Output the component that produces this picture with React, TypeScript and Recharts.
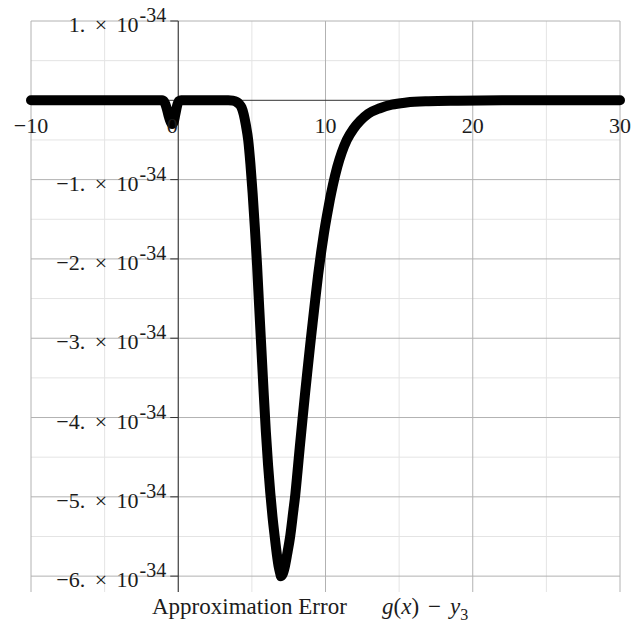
import React from "react";
import {
  LineChart,
  Line,
  XAxis,
  YAxis,
  ReferenceLine,
  ReferenceDot,
} from "recharts";

// g(x) - y3, y values in units of 1e-34
const errX = [
  -10, -6, -2, -1.1, -0.95, -0.8, -0.65, -0.5, -0.42, -0.32, -0.2, -0.08, 0.05,
  0.2, 2, 3.4, 3.7, 3.95, 4.15, 4.3, 4.45, 4.6, 4.75, 4.9, 5.05, 5.2, 5.35, 5.5,
  5.65, 5.8, 5.95, 6.1, 6.25, 6.4, 6.55, 6.7, 6.82, 6.93, 6.97, 7.1, 7.25, 7.4,
  7.6, 7.8, 7.95, 8.1, 8.25, 8.45, 8.6, 8.75, 8.95, 9.1, 9.3, 9.5, 9.7, 9.9,
  10.1, 10.3, 10.5, 10.8, 11.1, 11.45, 11.9, 12.35, 12.9, 13.7, 14.5, 15.5, 17,
  19, 22, 26, 30,
];
const errY = [
  0, 0, 0, 0, -0.02, -0.09, -0.2, -0.28, -0.3, -0.28, -0.18, -0.07, -0.01, 0, 0,
  0, -0.005, -0.02, -0.05, -0.09, -0.18, -0.32, -0.5, -0.8, -1.17, -1.6, -2.07,
  -2.62, -3.15, -3.68, -4.18, -4.6, -4.95, -5.25, -5.5, -5.73, -5.88, -5.97,
  -6.0, -5.97, -5.87, -5.72, -5.5, -5.2, -4.97, -4.68, -4.38, -4.0, -3.72, -3.45,
  -3.1, -2.85, -2.52, -2.2, -1.92, -1.67, -1.45, -1.25, -1.07, -0.84, -0.66,
  -0.5, -0.36, -0.26, -0.17, -0.1, -0.055, -0.028, -0.012, -0.005, 0, 0, 0,
];

const xMajor = [-10, 0, 10, 20, 30];
const xMinor = [-5, 5, 15, 25];
const yMajor = [1, -1, -2, -3, -4, -5, -6];
const yMinor = [0.5, -0.5, -1.5, -2.5, -3.5, -4.5, -5.5];
const xLabels = ["\u221210", "0", "10", "20", "30"];
const yMantissa = ["1.", "\u22121.", "\u22122.", "\u22123.", "\u22124.", "\u22125.", "\u22126."];

const data = errX.map((x, i) => ({ x, err: errY[i] }));

const FONT = "'Liberation Serif', 'Times New Roman', serif";
const INK = "#1c1c1c";
const MAJOR = "#b2b2b2";
const MINOR = "#e4e4e4";

const XTickLabel = ({ viewBox, text, shift }: any) => {
  const cx = viewBox.x + viewBox.width / 2;
  const cy = viewBox.y + viewBox.height / 2;
  return (
    <text x={cx + shift} y={cy + 33} textAnchor="middle" fontFamily={FONT} fontSize={22} fill={INK}>
      {text}
    </text>
  );
};

const YTickLabel = ({ viewBox, mantissa }: any) => {
  const cx = viewBox.x + viewBox.width / 2;
  const cy = viewBox.y + viewBox.height / 2;
  return (
    <g>
      <line x1={cx - 8} x2={cx} y1={cy} y2={cy} stroke="#333" strokeWidth={1} />
      <text
        x={cx - 12}
        y={cy + 11}
        textAnchor="end"
        fontFamily={FONT}
        fontSize={22}
        fill={INK}
        style={{ wordSpacing: 4 }}
      >
        {mantissa + " \u00d7 10"}
        <tspan dx={1} dy={-10} fontSize={20}>
          -34
        </tspan>
      </text>
    </g>
  );
};

const ids = { xAxisId: "a", yAxisId: "a" };

export default function App() {
  return (
    <div style={{ position: "absolute", left: 0, top: 0, width: 635, height: 628, background: "#fff" }}>
      <LineChart
        width={635}
        height={628}
        data={data}
        margin={{ top: 21, right: 15, bottom: 36, left: 31 }}
      >
        <XAxis xAxisId="a" type="number" dataKey="x" domain={[-10, 30]} hide />
        <YAxis yAxisId="a" type="number" domain={[-6.2, 1]} hide />

        {/* grid: light at half steps, darker at whole steps */}
        {xMinor.map((v) => (
          <ReferenceLine key={"xm" + v} {...ids} x={v} stroke={MINOR} strokeWidth={1} />
        ))}
        {yMinor.map((v) => (
          <ReferenceLine key={"ym" + v} {...ids} y={v} stroke={MINOR} strokeWidth={1} />
        ))}
        {xMajor.map((v) => (
          <ReferenceLine key={"xM" + v} {...ids} x={v} stroke={MAJOR} strokeWidth={1} />
        ))}
        {yMajor.map((v) => (
          <ReferenceLine key={"yM" + v} {...ids} y={v} stroke={MAJOR} strokeWidth={1} />
        ))}

        <ReferenceLine {...ids} x={0} stroke="#333" strokeWidth={1} />
        <ReferenceLine {...ids} y={0} stroke="#333" strokeWidth={1} />

        {xMajor.map((v, i) => (
          <ReferenceDot
            key={"xl" + v}
            {...ids}
            x={v}
            y={0}
            r={1}
            fill="none"
            stroke="none"
            label={(p: any) => <XTickLabel {...p} text={xLabels[i]} shift={v === 0 ? -6 : 0} />}
          />
        ))}
        {yMajor.map((v, i) => (
          <ReferenceDot
            key={"yl" + v}
            {...ids}
            x={0}
            y={v}
            r={1}
            fill="none"
            stroke="none"
            label={(p: any) => <YTickLabel {...p} mantissa={yMantissa[i]} />}
          />
        ))}

        <Line
          {...ids}
          type="monotone"
          dataKey="err"
          stroke="#000"
          strokeWidth={10}
          strokeLinecap="round"
          strokeLinejoin="round"
          dot={false}
          activeDot={false}
          isAnimationActive={false}
        />
      </LineChart>
      <svg
        width={635}
        height={628}
        style={{ position: "absolute", left: 0, top: 0, pointerEvents: "none" }}
      >
        <text x={152} y={614} fontFamily={FONT} fontSize={23} fill={INK}>
          Approximation Error
        </text>
        <text x={382} y={614} fontFamily={FONT} fontSize={23} fill={INK}>
          <tspan fontStyle="italic">g</tspan>(<tspan fontStyle="italic">x</tspan>)
          <tspan dx={9}>{"\u2212"}</tspan>
          <tspan dx={9} fontStyle="italic">y</tspan>
          <tspan dy={6} fontSize={16}>3</tspan>
        </text>
      </svg>
    </div>
  );
}
